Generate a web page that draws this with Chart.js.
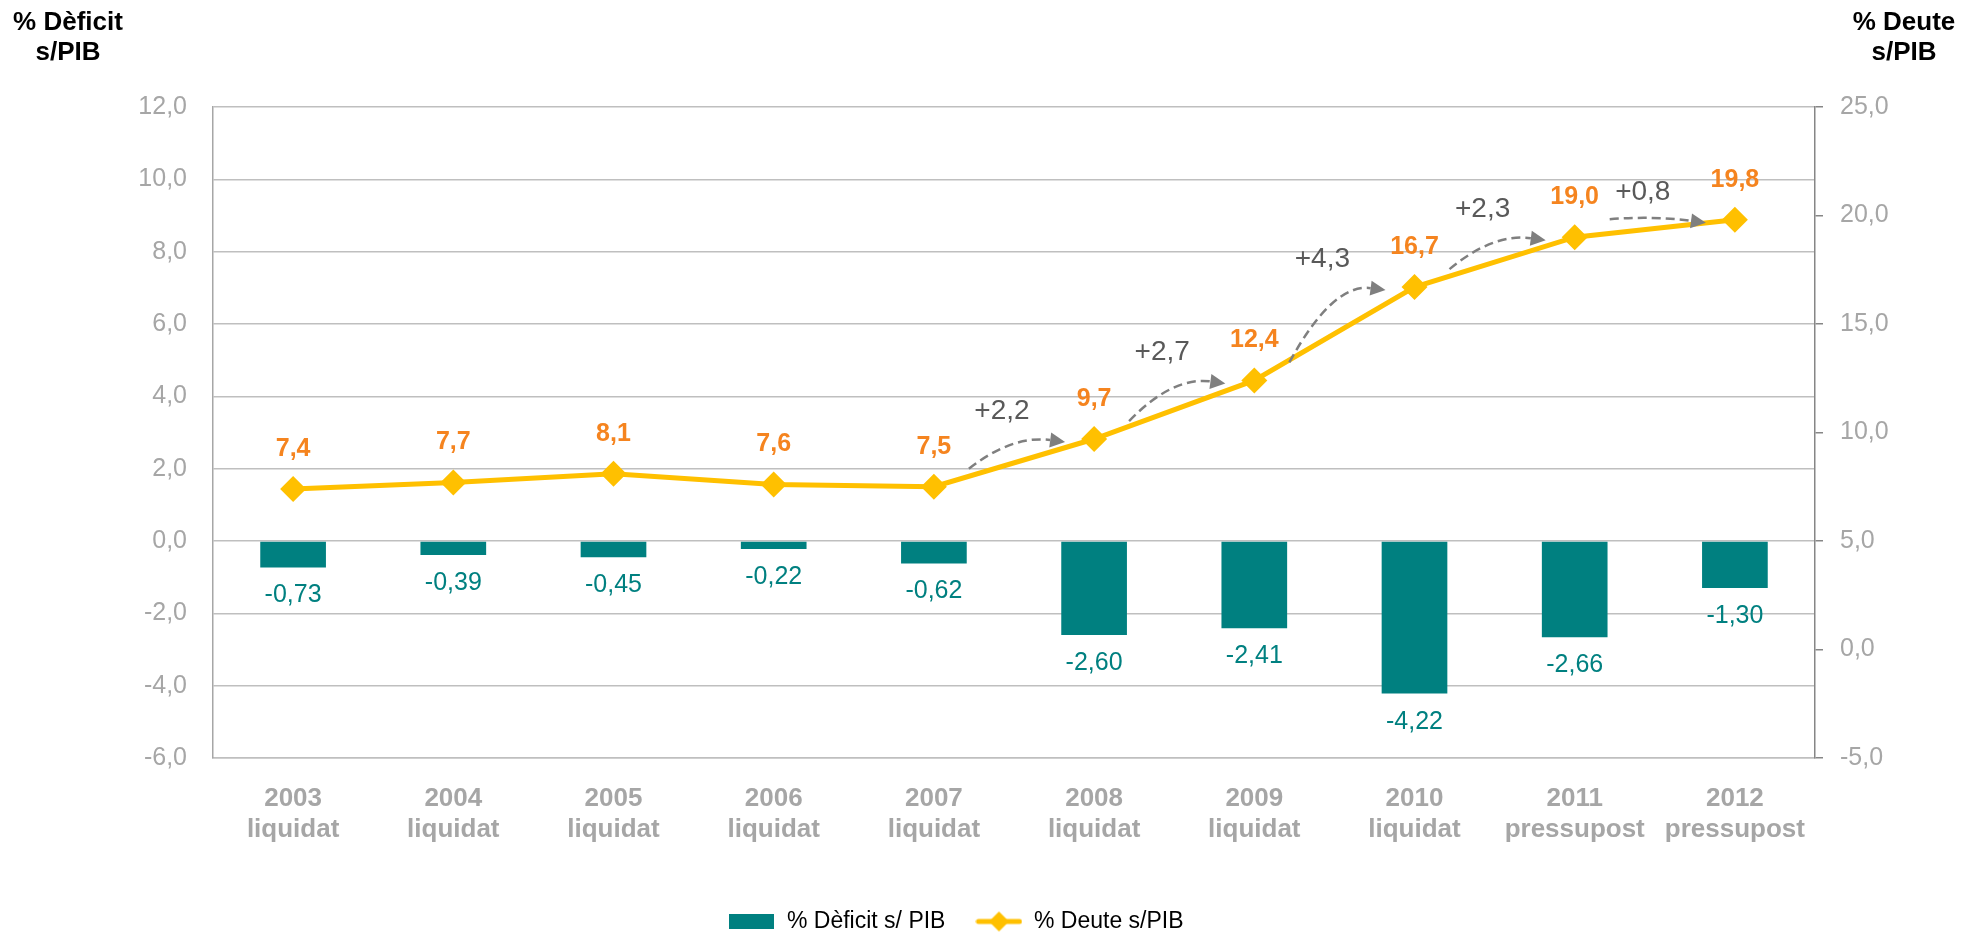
<!DOCTYPE html>
<html>
<head>
<meta charset="utf-8">
<script src="https://cdn.jsdelivr.net/npm/chart.js@4.4.0/dist/chart.umd.min.js"></script>
<style>
  html, body { margin: 0; padding: 0; background: #fff; }
</style>
</head>
<body>
<canvas id="myChart" width="1962" height="933"></canvas>
<script>
// Categories along the x-axis
var years = ["2003", "2004", "2005", "2006", "2007", "2008", "2009", "2010", "2011", "2012"];
var phases = ["liquidat", "liquidat", "liquidat", "liquidat", "liquidat", "liquidat", "liquidat", "liquidat", "pressupost", "pressupost"];
// Series
var deficit = [-0.73, -0.39, -0.45, -0.22, -0.62, -2.60, -2.41, -4.22, -2.66, -1.30];
var debt = [7.4, 7.7, 8.1, 7.6, 7.5, 9.7, 12.4, 16.7, 19.0, 19.8];
// Arrows showing the debt increase start from this category
var arrowFrom = [4, 5, 6, 7, 8];

var FONT = "'Liberation Sans', Arial, sans-serif";
var TEAL = "#008080";
var YELLOW = "#FFC000";
var ORANGE = "#F5841F";

function fmt(v, d) {
  return v.toFixed(d).replace(".", ",");
}

var labels = years.map(function (y, i) { return [y, phases[i]]; });

// legend icons
var barIcon = document.createElement("canvas");
barIcon.width = 45; barIcon.height = 15;
var bctx = barIcon.getContext("2d");
bctx.fillStyle = TEAL;
bctx.fillRect(0, 0, 45, 15);

var lineIcon = document.createElement("canvas");
lineIcon.width = 47; lineIcon.height = 24;
var lctx = lineIcon.getContext("2d");
lctx.strokeStyle = YELLOW;
lctx.lineWidth = 5;
lctx.lineCap = "round";
lctx.beginPath(); lctx.moveTo(3, 12); lctx.lineTo(44, 12); lctx.stroke();
lctx.fillStyle = YELLOW;
lctx.beginPath();
lctx.moveTo(23.5, 2); lctx.lineTo(33.5, 12); lctx.lineTo(23.5, 22); lctx.lineTo(13.5, 12);
lctx.closePath(); lctx.fill();

var extrasPlugin = {
  id: "extras",
  afterDatasetsDraw: function (chart) {
    var ctx = chart.ctx;
    var bars = chart.getDatasetMeta(0).data;
    var pts = chart.getDatasetMeta(1).data;
    ctx.save();
    ctx.textAlign = "center";
    ctx.textBaseline = "middle";

    // bar values
    ctx.font = "25px " + FONT;
    ctx.fillStyle = TEAL;
    bars.forEach(function (b, i) {
      ctx.fillText(fmt(deficit[i], 2), b.x, b.y + 28);
    });

    // dashed arrows with the debt increase
    arrowFrom.forEach(function (i) {
      var p0 = pts[i], p1 = pts[i + 1];
      var sx = p0.x + 35, sy = p0.y - 18;
      var ex = p1.x - 29, ey = p1.y + 3;
      var cx = sx + 0.45 * (ex - sx), cy = ey - 7;
      var dx = ex - cx, dy = ey - cy, len = Math.sqrt(dx * dx + dy * dy);
      dx /= len; dy /= len;
      var bx = ex - dx * 15, by = ey - dy * 15;
      ctx.strokeStyle = "#7F7F7F";
      ctx.lineWidth = 2.5;
      ctx.setLineDash([9, 5]);
      ctx.beginPath();
      ctx.moveTo(sx, sy);
      ctx.quadraticCurveTo(cx, cy, bx, by);
      ctx.stroke();
      ctx.setLineDash([]);
      ctx.fillStyle = "#7F7F7F";
      ctx.beginPath();
      ctx.moveTo(ex, ey);
      ctx.lineTo(bx - dy * 7.5, by + dx * 7.5);
      ctx.lineTo(bx + dy * 7.5, by - dx * 7.5);
      ctx.closePath();
      ctx.fill();

      ctx.font = "28px " + FONT;
      ctx.fillStyle = "#595959";
      ctx.fillText("+" + fmt(debt[i + 1] - debt[i], 1), (p0.x + p1.x) / 2 - 12, p1.y - 28);
    });

    // debt values
    ctx.font = "bold 25px " + FONT;
    ctx.fillStyle = ORANGE;
    pts.forEach(function (p, i) {
      ctx.fillText(fmt(debt[i], 1), p.x, p.y - 40);
    });
    ctx.restore();
  },
  afterDraw: function (chart) {
    var ctx = chart.ctx;
    ctx.save();
    ctx.font = "bold 26px " + FONT;
    ctx.fillStyle = "#000";
    ctx.textAlign = "center";
    ctx.textBaseline = "middle";
    ctx.fillText("% Dèficit", 68, 23);
    ctx.fillText("s/PIB", 68, 53);
    ctx.fillText("% Deute", 1904, 23);
    ctx.fillText("s/PIB", 1904, 53);
    ctx.restore();
  }
};

Chart.defaults.font.family = FONT;

var ctx = document.getElementById("myChart");
var myChart = new Chart(ctx, {
  type: "bar",
  data: {
    labels: labels,
    datasets: [
      {
        type: "bar",
        label: "% Dèficit s/ PIB",
        data: deficit,
        yAxisID: "y",
        backgroundColor: TEAL,
        categoryPercentage: 1,
        barPercentage: 0.41,
        order: 1
      },
      {
        type: "line",
        label: "% Deute s/PIB",
        data: debt,
        yAxisID: "y1",
        borderColor: YELLOW,
        backgroundColor: YELLOW,
        borderWidth: 5,
        pointStyle: "rectRot",
        pointRadius: 13,
        pointBorderWidth: 0,
        pointBackgroundColor: YELLOW,
        tension: 0,
        fill: false,
        order: 0
      }
    ]
  },
  options: {
    responsive: false,
    animation: false,
    devicePixelRatio: 1,
    layout: { padding: { top: 107, left: 0, right: 50, bottom: -10 } },
    plugins: {
      tooltip: { enabled: false },
      legend: {
        position: "bottom",
        labels: {
          usePointStyle: true,
          pointStyleWidth: 47,
          padding: 30,
          color: "#000",
          font: { size: 23 },
          generateLabels: function (chart) {
            var ds = chart.data.datasets;
            return [
              { text: ds[0].label, pointStyle: barIcon, fillStyle: TEAL, strokeStyle: TEAL, lineWidth: 0, hidden: false, datasetIndex: 0 },
              { text: ds[1].label, pointStyle: lineIcon, fillStyle: YELLOW, strokeStyle: YELLOW, lineWidth: 0, hidden: false, datasetIndex: 1 }
            ];
          }
        }
      }
    },
    scales: {
      x: {
        grid: { display: false, drawTicks: false },
        border: { color: "#BFBFBF", width: 1.5 },
        ticks: {
          color: "#A6A6A6",
          padding: 25,
          maxRotation: 0,
          autoSkip: false,
          font: { size: 26, weight: "bold", lineHeight: 1.2 }
        },
        afterFit: function (scale) { scale.height = 122; }
      },
      y: {
        position: "left",
        min: -6,
        max: 12,
        ticks: {
          stepSize: 2,
          color: "#A6A6A6",
          padding: 26,
          font: { size: 25 },
          callback: function (v) { return fmt(v, 1); }
        },
        grid: { color: "#BFBFBF", lineWidth: 1.5, drawTicks: false },
        border: { color: "#A6A6A6", width: 1.5 },
        afterFit: function (scale) { scale.width = 213; }
      },
      y1: {
        position: "right",
        min: -5,
        max: 25,
        ticks: {
          stepSize: 5,
          color: "#A6A6A6",
          padding: 17,
          font: { size: 25 },
          callback: function (v) { return fmt(v, 1); }
        },
        grid: { drawOnChartArea: false, drawTicks: true, tickLength: 8, color: "#868686", lineWidth: 1.5 },
        border: { color: "#868686", width: 1.5 },
        afterFit: function (scale) { scale.width = 97; }
      }
    }
  },
  plugins: [extrasPlugin]
});
</script>
</body>
</html>
